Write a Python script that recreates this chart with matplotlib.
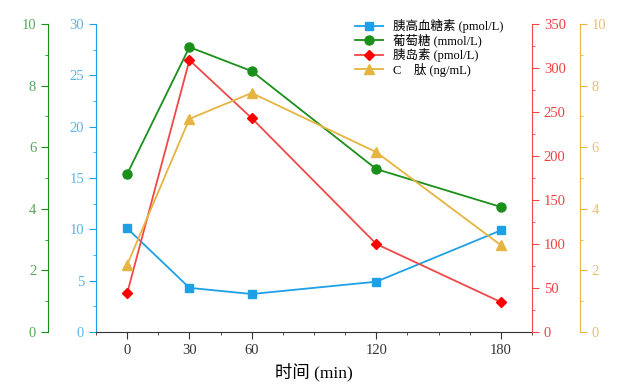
import matplotlib
matplotlib.use("Agg")
import matplotlib.pyplot as plt
import matplotlib.ticker as ticker

plt.rcParams['font.family'] = ['Liberation Serif', 'Noto Sans CJK SC']

time_min = [0, 30, 60, 120, 180]
glucagon = [10.1, 4.3, 3.7, 4.9, 9.9]      # pmol/L, blue axis
glucose = [5.13, 9.25, 8.47, 5.29, 4.06]   # mmol/L, green axis
insulin = [44, 309, 243, 100, 34]          # pmol/L, red axis
cpeptide = [2.18, 6.92, 7.76, 5.84, 2.82]  # ng/mL, gold axis

c_blue = "#1ea0e6"
c_green = "#1a8f1a"
c_red = "#f04848"
c_red_m = "#ff0000"
c_gold = "#e6b440"
c_text_green = "#55a855"
c_text_blue = "#5ab4e8"
c_text_red = "#f04040"
c_text_gold = "#e8c070"

fig = plt.figure(figsize=(6.3, 3.9), dpi=100)
ax = fig.add_axes([96 / 630, 58 / 390, 436 / 630, 308 / 390])
ax_g = ax.twinx()
ax_r = ax.twinx()
ax_y = ax.twinx()

# host: blue on left
ax.spines["top"].set_visible(False)
ax.spines["right"].set_visible(False)
ax.spines["left"].set_color(c_blue)
ax.spines["bottom"].set_color("#333333")

# green: left, outward
ax_g.yaxis.set_ticks_position("left")
ax_g.yaxis.set_label_position("left")
for s in ["top", "right", "bottom"]:
    ax_g.spines[s].set_visible(False)
ax_g.spines["left"].set_visible(True)
ax_g.spines["left"].set_position(("outward", 48 * 0.72))
ax_g.spines["left"].set_color(c_green)

# red: right
for s in ["top", "left", "bottom"]:
    ax_r.spines[s].set_visible(False)
ax_r.spines["right"].set_color(c_red)

# gold: right, outward
for s in ["top", "left", "bottom"]:
    ax_y.spines[s].set_visible(False)
ax_y.spines["right"].set_position(("outward", 48 * 0.72))
ax_y.spines["right"].set_color(c_gold)

l1, = ax.plot(time_min, glucagon, color=c_blue, marker="s", markersize=5.5,
              linewidth=1.3, label="胰高血糖素 (pmol/L)")
l2, = ax_g.plot(time_min, glucose, color=c_green, marker="o", markersize=6.5,
                linewidth=1.3, label="葡萄糖 (mmol/L)")
l3, = ax_r.plot(time_min, insulin, color=c_red, marker="D", markersize=5.5,
                markerfacecolor=c_red_m, markeredgecolor=c_red_m,
                linewidth=1.3, label="胰岛素 (pmol/L)")
l4, = ax_y.plot(time_min, cpeptide, color=c_gold, marker="^", markersize=7,
                linewidth=1.3, label="C　肽 (ng/mL)")

ax.set_xlim(-15, 195)
ax.set_xticks(time_min)
ax.xaxis.set_minor_locator(ticker.MultipleLocator(15))
ax.set_xlabel("时间 (min)", fontsize=12.5, labelpad=4)

ax.set_ylim(0, 30)
ax.yaxis.set_major_locator(ticker.MultipleLocator(5))
ax.yaxis.set_minor_locator(ticker.MultipleLocator(2.5))
ax_g.set_ylim(0, 10)
ax_g.yaxis.set_major_locator(ticker.MultipleLocator(2))
ax_g.yaxis.set_minor_locator(ticker.MultipleLocator(1))
ax_r.set_ylim(0, 350)
ax_r.yaxis.set_major_locator(ticker.MultipleLocator(50))
ax_r.yaxis.set_minor_locator(ticker.MultipleLocator(25))
ax_y.set_ylim(0, 10)
ax_y.yaxis.set_major_locator(ticker.MultipleLocator(2))
ax_y.yaxis.set_minor_locator(ticker.MultipleLocator(1))

ax.tick_params(axis="x", which="major", length=5, colors="#333333", labelsize=10.5)
ax.tick_params(axis="x", which="minor", length=2.5, color="#333333")
for a, col, tcol in [(ax, c_blue, c_text_blue),
                     (ax_g, c_green, c_text_green),
                     (ax_r, c_red, c_text_red),
                     (ax_y, c_gold, c_text_gold)]:
    a.tick_params(axis="y", which="major", length=5, color=col, labelcolor=tcol,
                  labelsize=10.5)
    a.tick_params(axis="y", which="minor", length=2.5, color=col)

leg = ax.legend(handles=[l1, l2, l3, l4], loc="upper left",
                bbox_to_anchor=(0.575, 1.045), frameon=False, fontsize=9,
                handlelength=2.2, labelspacing=0.05, borderpad=0.2)

fig.savefig("out.png", dpi=100)
